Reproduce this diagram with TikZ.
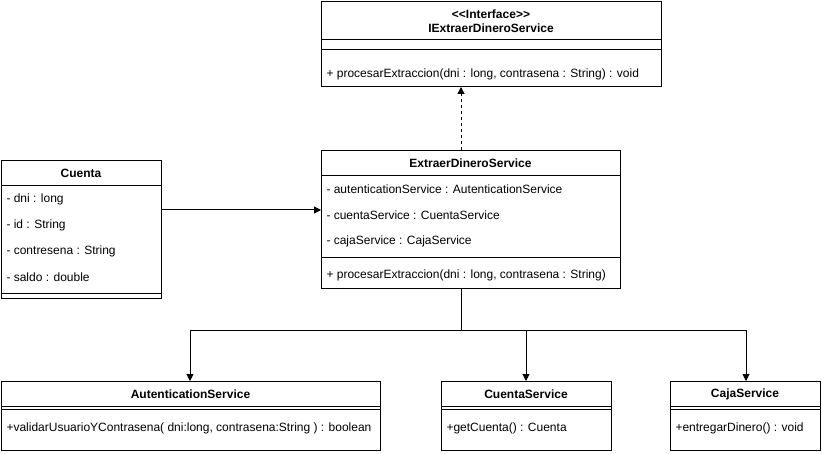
\documentclass[tikz,border=0pt]{standalone}
\usepackage{fontspec}
\setmainfont{Liberation Sans}
\usetikzlibrary{arrows.meta}

\begin{document}
\begin{tikzpicture}[x=1pt,y=-1pt,line width=1pt,
  classbox/.style={draw,rectangle,anchor=north west,inner sep=0pt},
  title/.style={font=\fontsize{12}{14}\selectfont\bfseries,inner sep=0pt},
  member/.style={font=\fontsize{12}{14}\selectfont,anchor=west,inner sep=0pt},
  link/.style={-{Triangle[length=7pt,width=7pt]}}]
  \useasboundingbox (0,0) rectangle (822,454);

  % interface
  \node[classbox,minimum width=340pt,minimum height=85pt] (iface) at (321,1) {};
  \node[title,align=center] (ifaceT) at (491,21) {{<}{<}Interface{>}{>}\\IExtraerDineroService};
  \draw (321,40)--++(340,0);
  \draw (321,50)--++(340,0);
  \node[member] (ifaceM) at (326,74) {+ procesarExtraccion(dni : long, contrasena : String) : void};

  % extraer
  \node[classbox,minimum width=299pt,minimum height=138pt] (extraer) at (321,150) {};
  \node[title] (extraerT) at (470.5,163) {ExtraerDineroService};
  \draw (321,176)--++(299,0);
  \node[member] (extraerA) at (326,189) {- autenticationService : AutenticationService};
  \node[member] (extraerB) at (326,215) {- cuentaService : CuentaService};
  \node[member] (extraerC) at (326,241) {- cajaService : CajaService};
  \draw (321,258)--++(299,0);
  \node[member] (extraerM) at (326,275) {+ procesarExtraccion(dni : long, contrasena : String)};

  % cuenta
  \node[classbox,minimum width=160pt,minimum height=138pt] (cuenta) at (1,160) {};
  \node[title] (cuentaT) at (81,173) {Cuenta};
  \draw (1,186)--++(160,0);
  \node[member] (cuentaA) at (6,199) {- dni : long};
  \node[member] (cuentaB) at (6,225) {- id : String};
  \node[member] (cuentaC) at (6,251) {- contresena : String};
  \node[member] (cuentaD) at (6,277) {- saldo : double};
  \draw (1,294)--++(160,0);

  % servicios
  \node[classbox,minimum width=379pt,minimum height=69pt] (auten) at (1,381) {};
  \node[title] (autenT) at (190.5,394) {AutenticationService};
  \draw (1,406)--++(379,0);
  \draw (1,409)--++(379,0);
  \node[member] (autenM) at (6,428) {+validarUsuarioYContrasena( dni:long, contrasena:String ) : boolean};

  \node[classbox,minimum width=170pt,minimum height=69pt] (cserv) at (441,381) {};
  \node[title] (cservT) at (526,394) {CuentaService};
  \draw (441,406)--++(170,0);
  \draw (441,409)--++(170,0);
  \node[member] (cservM) at (446,428) {+getCuenta() : Cuenta};

  \node[classbox,minimum width=150pt,minimum height=69pt] (caja) at (670,381) {};
  \node[title] (cajaT) at (745,394) {CajaService};
  \draw (670,406)--++(150,0);
  \draw (670,409)--++(150,0);
  \node[member] (cajaM) at (675,428) {+entregarDinero() : void};

  % flechas
  \draw[link,dash pattern=on 3pt off 3pt] (extraer.north-|461,0) -- (iface.south-|461,0);
  \draw[link] (cuenta.east|-0,210) -- (extraer.west|-0,210);
  \coordinate (split) at (461,331);
  \draw (extraer.south-|split) -- (split);
  \draw[link] (split) -| (auten.north-|190,0);
  \draw[link] (split) -| (cserv.north-|526,0);
  \draw[link] (split) -| (caja.north-|746,0);
\end{tikzpicture}
\end{document}
